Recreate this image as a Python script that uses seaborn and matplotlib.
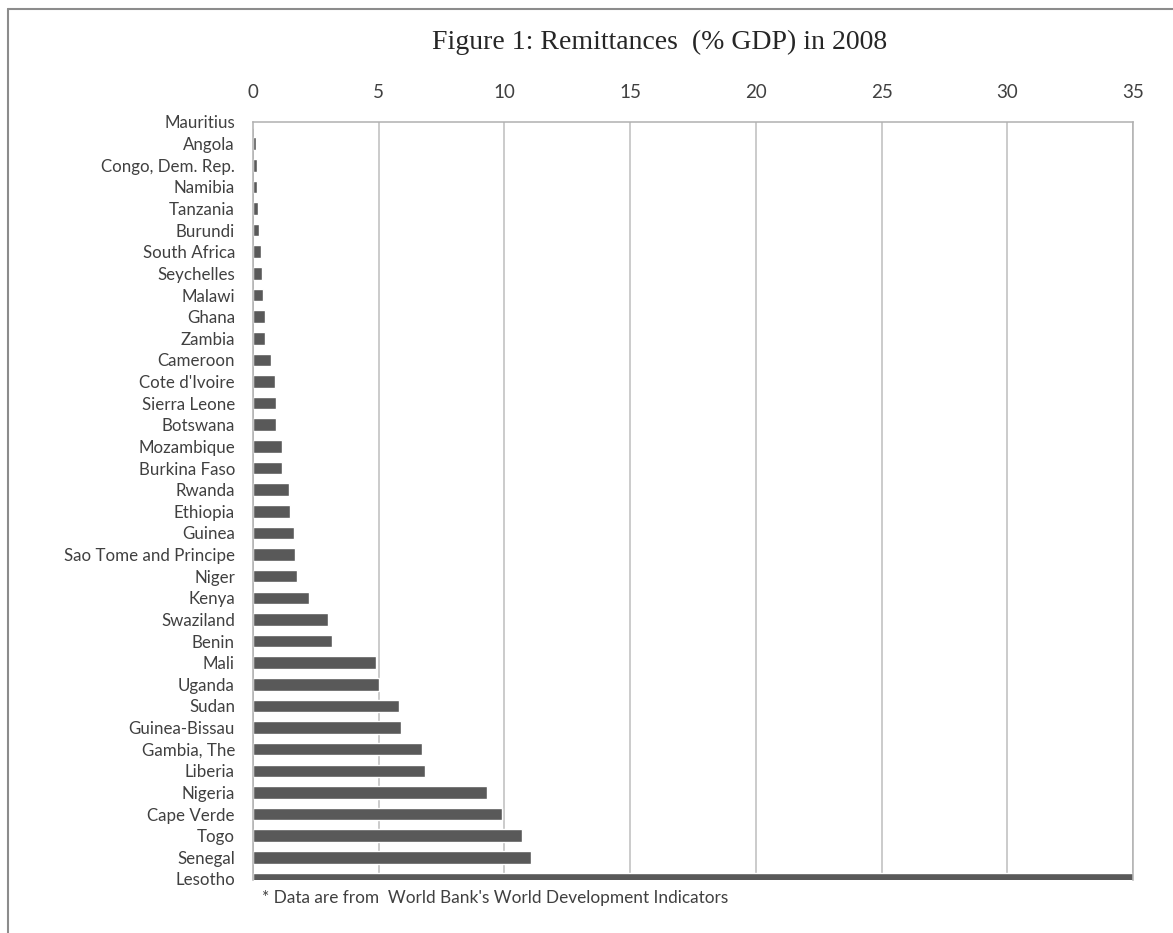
import matplotlib
matplotlib.use('Agg')
import matplotlib.pyplot as plt
import seaborn as sns
import pandas as pd
from matplotlib.lines import Line2D

countries = ["Mauritius", "Angola", "Congo, Dem. Rep.", "Namibia", "Tanzania", "Burundi",
             "South Africa", "Seychelles", "Malawi", "Ghana", "Zambia", "Cameroon",
             "Cote d'Ivoire", "Sierra Leone", "Botswana", "Mozambique", "Burkina Faso",
             "Rwanda", "Ethiopia", "Guinea", "Sao Tome and Principe", "Niger", "Kenya",
             "Swaziland", "Benin", "Mali", "Uganda", "Sudan", "Guinea-Bissau",
             "Gambia, The", "Liberia", "Nigeria", "Cape Verde", "Togo", "Senegal", "Lesotho"]
values = [0.03, 0.10, 0.15, 0.15, 0.19, 0.23, 0.31, 0.35, 0.39, 0.48, 0.48, 0.70,
          0.86, 0.91, 0.90, 1.17, 1.17, 1.45, 1.46, 1.63, 1.66, 1.74, 2.22,
          2.97, 3.13, 4.91, 5.00, 5.79, 5.87, 6.71, 6.83, 9.30, 9.92, 10.69, 11.05, 35.0]
xticks = [0, 5, 10, 15, 20, 25, 30, 35]

title = "Figure 1: Remittances  (% GDP) in 2008"
footnote = "* Data are from  World Bank's World Development Indicators"

sns.set_theme(style='white')
plt.rcParams['font.family'] = ['Lato', 'DejaVu Sans']

W, H = 1173, 933
fig = plt.figure(figsize=(W / 100, H / 100), dpi=100)
fig.patch.set_facecolor('white')
ax = fig.add_axes([253 / W, 1 - 880 / H, 880 / W, (880 - 122) / H])

df = pd.DataFrame({'country': countries, 'value': values})
sns.barplot(data=df, x='value', y='country', orient='h', color='#595959',
            saturation=1, width=0.58, ax=ax)

ax.set_xlim(0, 35)
ax.set_ylim(len(countries) - 1 + 0.05, 0)
ax.xaxis.tick_top()
ax.set_xticks(xticks)
ax.set_xticklabels([str(t) for t in xticks])
ax.set_xlabel('')
ax.set_ylabel('')
ax.grid(axis='x', color='#bdbdbd', lw=1.1)
ax.grid(axis='y', visible=False)
ax.set_axisbelow(True)

for side in ['left', 'top', 'right']:
    ax.spines[side].set_visible(True)
    ax.spines[side].set_color('#b0b0b0')
    ax.spines[side].set_linewidth(1.1)
ax.spines['bottom'].set_visible(False)

ax.tick_params(axis='x', length=0, pad=15, labelsize=13.5, labelcolor='#404040')
ax.tick_params(axis='y', length=0, pad=13, labelsize=12.2, labelcolor='#404040')

fig.text(660 / W, 1 - 42 / H, title, ha='center', va='center',
         fontsize=20, family=['Liberation Serif'], color='#262626')
fig.text(262 / W, 1 - 898 / H, footnote, ha='left', va='center',
         fontsize=12.4, color='#404040')

fig.add_artist(Line2D([8 / W, 8 / W], [0, 1 - 9 / H], transform=fig.transFigure,
                      color='#8c8c8c', lw=1.5))
fig.add_artist(Line2D([8 / W, 1], [1 - 9 / H, 1 - 9 / H], transform=fig.transFigure,
                      color='#8c8c8c', lw=1.5))

fig.savefig('out.png', dpi=100, facecolor='white')
